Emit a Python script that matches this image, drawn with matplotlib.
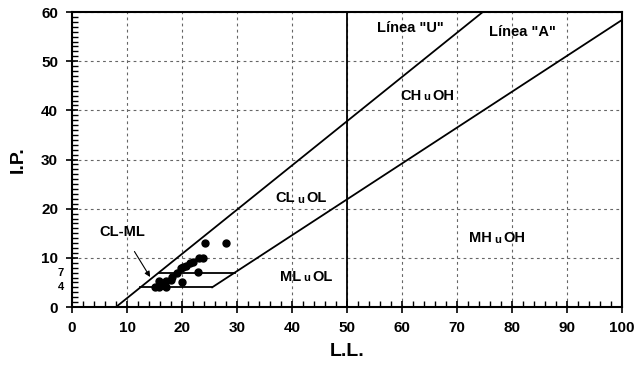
import numpy as np
import matplotlib.pyplot as plt
from matplotlib.ticker import MultipleLocator

plt.rcParams['font.family'] = ['Liberation Sans', 'DejaVu Sans']
plt.rcParams['font.weight'] = 'bold'
plt.rcParams['axes.labelweight'] = 'bold'

# muestras (LL, IP)
ll = [24.2, 28.0, 23.0, 23.9, 22.0, 21.4, 20.7, 20.1, 19.8, 22.9, 19.0,
      18.1, 18.0, 20.0, 17.1, 15.9, 17.1, 15.9, 15.0, 16.3]
ip = [13.0, 13.0, 10.0, 10.0, 9.1, 8.9, 8.3, 8.2, 8.0, 7.1, 7.0,
      6.2, 5.5, 5.1, 5.2, 5.2, 4.0, 4.0, 4.0, 4.5]

xticks = [0, 10, 20, 30, 40, 50, 60, 70, 80, 90, 100]
yticks = [0, 10, 20, 30, 40, 50, 60]
band = [4, 7]


def line_u(x):
    return 0.9 * (x - 8)


def line_a(x):
    return 0.73 * (x - 20)


def main():
    fig = plt.figure(figsize=(6.36, 3.66), dpi=100)
    ax = fig.add_axes([0.1132, 0.1612, 0.865, 0.806])

    # linea U
    xu = np.array([8, 8 + 60 / 0.9])
    ax.plot(xu, line_u(xu), 'k', lw=1.3)
    # linea A desde IP=4
    xa = np.array([20 + band[0] / 0.73, 100])
    ax.plot(xa, line_a(xa), 'k', lw=1.3)
    # franja CL-ML
    for b in band:
        ax.plot([8 + b / 0.9, 20 + b / 0.73], [b, b], 'k', lw=1.3)
    ax.axvline(50, color='k', lw=1.3)

    ax.plot(ll, ip, 'ko', ms=5)

    ax.set_xlim(0, 100)
    ax.set_ylim(0, 60)
    ax.set_xticks(xticks)
    ax.set_yticks(yticks)
    ax.xaxis.set_minor_locator(MultipleLocator(2))
    ax.yaxis.set_minor_locator(MultipleLocator(1))
    ax.tick_params(which='major', direction='inout', length=8, width=1.2,
                   labelsize=11, pad=6)
    ax.tick_params(which='minor', direction='in', length=4, width=1)
    ax.grid(True, which='major', ls=(0, (2.5, 3)), color='#666666', lw=0.8)
    for s in ax.spines.values():
        s.set_linewidth(1.5)

    for b in band:
        ax.text(-1.5, b, str(b), ha='right', va='center', fontsize=8)

    ax.set_xlabel('L.L.', fontsize=14, labelpad=6)
    ax.set_ylabel('I.P.', fontsize=14, labelpad=10)

    def zone(x, y, a, b):
        ax.annotate(a, (x, y), xytext=(-4, 0), textcoords='offset points',
                    ha='right', va='center', fontsize=10.5)
        ax.annotate('u', (x, y), xytext=(0, -1), textcoords='offset points',
                    ha='center', va='center', fontsize=8)
        ax.annotate(b, (x, y), xytext=(4, 0), textcoords='offset points',
                    ha='left', va='center', fontsize=10.5)

    zone(64.5, 42.9, 'CH', 'OH')
    zone(41.6, 22.1, 'CL', 'OL')
    zone(77.4, 14.0, 'MH', 'OH')
    zone(42.6, 6.1, 'ML', 'OL')

    ax.text(61.5, 56.8, 'Línea "U"', ha='center', va='center', fontsize=10.5)
    ax.text(81.8, 56.0, 'Línea "A"', ha='center', va='center', fontsize=10.5)

    ax.annotate('CL-ML', xy=(14.2, 6.1), xytext=(9.2, 15.2),
                ha='center', va='center', fontsize=10.5,
                arrowprops=dict(arrowstyle='-|>', color='k', lw=0.8,
                                shrinkA=8, shrinkB=0, mutation_scale=8))

    fig.savefig('out.png', dpi=100)


if __name__ == '__main__':
    main()
